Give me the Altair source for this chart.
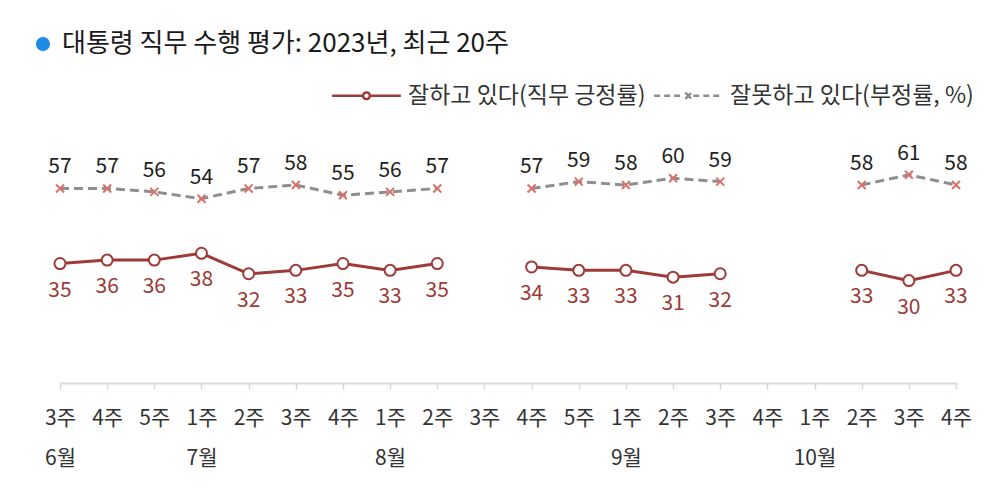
import altair as alt
import pandas as pd

# ---- data ----
months = ["6월", "6월", "6월", "7월", "7월", "7월", "7월", "8월", "8월", "8월",
          "8월", "8월", "9월", "9월", "9월", "9월", "10월", "10월", "10월", "10월"]
weeks = ["3주", "4주", "5주", "1주", "2주", "3주", "4주", "1주", "2주", "3주",
         "4주", "5주", "1주", "2주", "3주", "4주", "1주", "2주", "3주", "4주"]
positive = [35, 36, 36, 38, 32, 33, 35, 33, 35, None,
            34, 33, 33, 31, 32, None, None, 33, 30, 33]
negative = [57, 57, 56, 54, 57, 58, 55, 56, 57, None,
            57, 59, 58, 60, 59, None, None, 58, 61, 58]
series_names = ["잘하고 있다(직무 긍정률)", "잘못하고 있다(부정률, %)"]
title_text = "대통령 직무 수행 평가: 2023년, 최근 20주"

DARKRED = "#9C3B38"
GRAY = "#8E8E8E"
XRED = "#D9716B"
BLUE = "#1E8CE6"
FONT = "Noto Sans CJK KR"

keys = [f"{m} {w}" for m, w in zip(months, weeks)]
month_start = [k for i, (k, w) in enumerate(zip(keys, weeks)) if i == 0 or w == "1주"]


def build(values, name):
    rows, seg = [], 0
    for k, v in zip(keys, values):
        if v is None:
            seg += 1
            continue
        rows.append({"key": k, "value": v, "segment": seg, "series": name})
    return pd.DataFrame(rows)


pos_df = build(positive, series_names[0])
neg_df = build(negative, series_names[1])
all_df = pd.concat([pos_df, neg_df], ignore_index=True)

label_expr = (
    "[split(datum.value, ' ')[1], indexof(" + str(month_start) +
    ", datum.value) >= 0 ? split(datum.value, ' ')[0] : '']"
)

x_enc = alt.X(
    "key:O",
    sort=keys,
    scale=alt.Scale(type="point", domain=keys, padding=0),
    axis=alt.Axis(
        title=None, labelAngle=0, labelExpr=label_expr, labelFont=FONT,
        labelFontSize=21, labelColor="#333333", labelPadding=18,
        labelLineHeight=40, labelOverlap=False, labelBound=False,
        domainColor="#D9D9D9", domainWidth=2, tickColor="#D9D9D9",
        tickSize=6, tickWidth=1.5, grid=False,
    ),
)
y_enc = alt.Y("value:Q", scale=alt.Scale(domain=[0, 75], nice=False, zero=True), axis=None)

line_pos = alt.Chart(pos_df).mark_line(color=DARKRED, strokeWidth=3).encode(
    x=x_enc, y=y_enc, detail="segment:N")
line_neg = alt.Chart(neg_df).mark_line(color=GRAY, strokeWidth=3, strokeDash=[9, 5]).encode(
    x=x_enc, y=y_enc, detail="segment:N")
pt_pos = alt.Chart(pos_df).mark_point(
    shape="circle", filled=True, fill="white", stroke=DARKRED, strokeWidth=2,
    size=121, opacity=1).encode(x=x_enc, y=y_enc)
pt_neg = alt.Chart(neg_df).mark_point(
    shape="M-1,-1L1,1M-1,1L1,-1", filled=False, stroke=XRED, strokeWidth=2,
    size=64, opacity=1).encode(x=x_enc, y=y_enc)
lbl_pos = alt.Chart(pos_df).mark_text(
    dy=27, font=FONT, fontSize=21, color=DARKRED).encode(x=x_enc, y=y_enc, text="value:Q")
lbl_neg = alt.Chart(neg_df).mark_text(
    dy=-21, font=FONT, fontSize=21, color="#222222").encode(x=x_enc, y=y_enc, text="value:Q")

path1 = "M-4.3,0L-0.42,0M0.42,0L4.3,0M-0.42,0A0.42,0.42 0 1,0 0.42,0A0.42,0.42 0 1,0 -0.42,0"
path2 = ("M-0.4,-0.4L0.4,0.4L-0.4,-0.4M-0.4,0.4L0.4,-0.4L-0.4,0.4"
         "M-4.3,0L-0.6,0M0.6,0L4.3,0")
leg = alt.Legend(
    title=None, orient="none", legendX=268, legendY=-43, direction="horizontal",
    labelFont=FONT, labelFontSize=23, labelColor="#333333", labelLimit=0,
    symbolSize=256, symbolStrokeWidth=2.5, symbolOpacity=1, symbolOffset=27,
    labelOffset=30, columnPadding=3, padding=0,
)
legend_layer = alt.Chart(all_df).mark_point(opacity=0, filled=False).encode(
    x=x_enc, y=y_enc,
    color=alt.Color("series:N", scale=alt.Scale(domain=series_names, range=[DARKRED, GRAY]), legend=leg),
    shape=alt.Shape("series:N", scale=alt.Scale(domain=series_names, range=[path1, path2]), legend=leg),
    strokeDash=alt.StrokeDash("series:N", scale=alt.Scale(domain=series_names, range=[[1, 0], [6, 4]]), legend=leg),
)

dot = alt.Chart(pd.DataFrame({"t": [title_text]})).mark_circle(
    color=BLUE, size=200, opacity=1).encode(x=alt.value(-17), y=alt.value(-83))

chart = alt.layer(
    line_neg, line_pos, pt_neg, pt_pos, lbl_neg, lbl_pos, legend_layer, dot
).properties(
    width=896, height=256,
    title=alt.Title(title_text, anchor="start", frame="group", font=FONT, fontSize=26,
                    fontWeight="normal", color="#1A1A1A", offset=30, dy=50, dx=2),
    padding={"left": 52, "top": 119, "right": 34, "bottom": 105},
    autosize=alt.AutoSizeParams(type="none"),
).configure_view(stroke=None)

chart.save("out.html", embed_options={"renderer": "svg", "actions": False})
